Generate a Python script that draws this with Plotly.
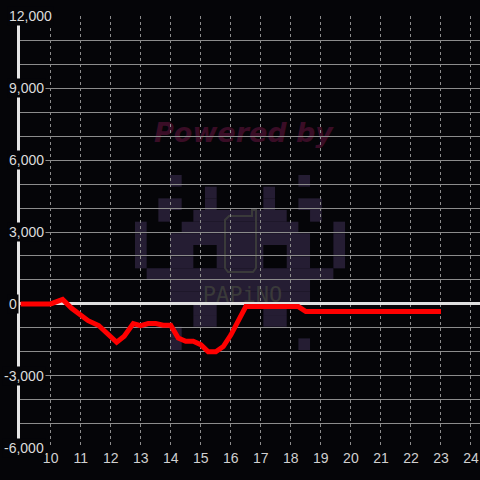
import plotly.graph_objects as go

# ---- data ----
hours = [9.0, 10.0, 10.4, 10.7, 11.25, 11.6, 12.2, 12.45, 12.75, 13.0, 13.25, 13.5,
         13.75, 14.0, 14.25, 14.5, 14.75, 15.0, 15.25, 15.5, 15.75, 16.0, 16.5,
         18.25, 18.5, 23.0]
pnl = [0, 0, 190, -180, -700, -900, -1600, -1350, -820, -910, -820, -820,
       -890, -890, -1420, -1560, -1560, -1700, -2000, -2000, -1780, -1300, -110,
       -110, -320, -320]
x_ticks = list(range(10, 25))
y_label_vals = [12000, 9000, 6000, 3000, 0, -3000, -6000]
y_label_text = ["12,000", "9,000", "6,000", "3,000", "0", "-3,000", "-6,000"]
y_grid_vals = list(range(-6000, 12001, 1000))

BG = "#050508"
W, H = 480, 480
PL, PR, PT, PB = 20, 480, 16, 448


def px(X):
    return (X - PL) / (PR - PL)


def py(Y):
    return (PB - Y) / (PB - PT)


fig = go.Figure()
fig.add_trace(go.Scatter(x=hours, y=pnl, mode="lines",
                         line=dict(color="#ff0000", width=5),
                         hoverinfo="skip", showlegend=False))

shapes = []
# ---- watermark: pixel invader ----
grid = [
    "...X..........X...",
    "......X....X......",
    "..XX..X....X..XX..",
    "..X..XXXXXXXX..X..",
    "X...XXXXXXXXXX...X",
    "X..XXXXXXXXXXXX..X",
    "X..XX..XXXX..XX..X",
    "X..XX..XXXX..XX..X",
    ".XXXXXXXXXXXXXXXX.",
    "...XXXXXXXXXXXX...",
    "...XXXXXXXXXXXX...",
    ".....XX....XX.....",
    ".....XX....XX.....",
    "...X..............",
    "...X..........X...",
]
cell = 11.67
X0, Y0 = 135, 175
purple = "#251d33"
for r, row in enumerate(grid):
    c = 0
    while c < len(row):
        if row[c] == "X":
            c2 = c
            while c2 + 1 < len(row) and row[c2 + 1] == "X":
                c2 += 1
            shapes.append(dict(type="rect", xref="paper", yref="paper", layer="below",
                               x0=px(X0 + c * cell), x1=px(X0 + (c2 + 1) * cell),
                               y0=py(Y0 + (r + 1) * cell), y1=py(Y0 + r * cell),
                               line=dict(width=0), fillcolor=purple))
            c = c2 + 1
        else:
            c += 1

# phone outline
ph = [(229, 216), (252, 216), (252, 210), (256, 210), (256, 268), (253, 272),
      (228, 272), (225, 268), (225, 220)]
path = "M " + " L ".join(f"{px(a):.5f},{py(b):.5f}" for a, b in ph) + " Z"
shapes.append(dict(type="path", xref="paper", yref="paper", layer="below", path=path,
                   line=dict(color="#3a3a3a", width=2)))

# "PAPiNO" text
shapes.append(dict(type="rect", xref="paper", yref="paper", layer="below",
                   x0=px(195), x1=px(290), y0=py(302), y1=py(282),
                   line=dict(width=0), fillcolor="rgba(0,0,0,0)",
                   label=dict(text="PAPiNO", textposition="middle center",
                              font=dict(family="DejaVu Sans Mono", size=22, color="#3a3a3a"))))

# "Powered by"
shapes.append(dict(type="rect", xref="paper", yref="paper", layer="below",
                   x0=px(140), x1=px(347), y0=py(147), y1=py(113),
                   line=dict(width=0), fillcolor="rgba(0,0,0,0)",
                   label=dict(text="Powered by", textposition="middle center",
                              font=dict(family="DejaVu Sans", size=27, color="#3a0d26",
                                        weight="bold", style="italic"))))

annotations = []
for v, t in zip(y_label_vals, y_label_text):
    annotations.append(dict(x=px(7), xref="paper", y=v, yref="y", text=t,
                            showarrow=False, xanchor="left", yanchor="middle",
                            xshift=-5 if v < 0 else 0,
                            font=dict(family="Liberation Sans, Arial", size=14, color="#dcdcdc"),
                            bgcolor=BG, borderpad=1))

fig.update_layout(
    width=W, height=H,
    margin=dict(l=PL, r=W - PR, t=PT, b=H - PB),
    paper_bgcolor=BG, plot_bgcolor=BG,
    shapes=shapes, annotations=annotations,
    showlegend=False,
    xaxis=dict(range=[8.98, 24.3], tickvals=x_ticks, ticktext=[str(v) for v in x_ticks],
               showgrid=True, gridcolor="#8c8c8c", griddash="dot", gridwidth=1,
               zeroline=False, showline=False, ticks="",
               tickfont=dict(family="Liberation Sans, Arial", size=14, color="#d0d0d0")),
    yaxis=dict(range=[-6010, 12010], tickvals=y_grid_vals, showticklabels=False,
               showgrid=True, gridcolor="#8c8c8c", gridwidth=1,
               zeroline=True, zerolinecolor="#e0e0e0", zerolinewidth=3,
               showline=True, linecolor="#e6e6e6", linewidth=3, ticks="",
               layer="below traces"),
)

fig.write_html("out.html",
               config={"displayModeBar": False},
               post_script="document.body.style.margin='0';"
                           "document.body.style.background='" + BG + "';")
